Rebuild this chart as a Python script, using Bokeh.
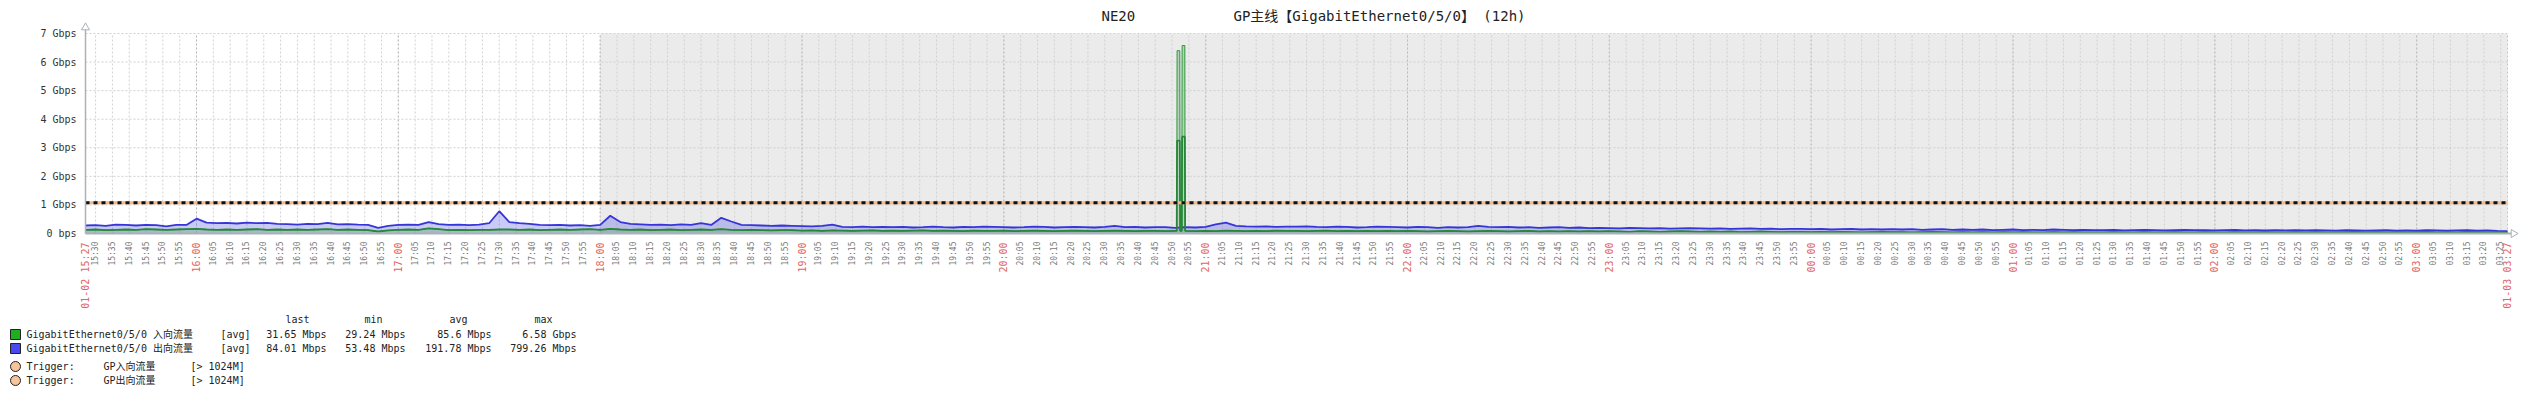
import numpy as np
from bokeh.plotting import figure
from bokeh.models import Range1d
from bokeh.core.properties import value
from bokeh.embed import file_html
from bokeh.resources import INLINE

# ---------------- data ----------------
START_CLOCK = "15:27"          # first sample (01-02)
STEP_MIN = 3                   # sampling step of the arrays below (minutes)
SPAN_MIN = 720                 # 12h
WORK_END = "18:00"             # shaded (non-working) period starts here
Y_MAX = 7                      # Gbps

# outbound (出向流量), Gbps, one value every 3 minutes from 15:27
outbound = [
    0.28, 0.29, 0.27, 0.31, 0.30, 0.28, 0.30, 0.29, 0.25, 0.30,
    0.30, 0.52, 0.38, 0.36, 0.37, 0.35, 0.38, 0.36, 0.37, 0.34,
    0.33, 0.31, 0.34, 0.33, 0.37, 0.32, 0.33, 0.31, 0.30, 0.20,
    0.27, 0.30, 0.31, 0.30, 0.40, 0.33, 0.30, 0.31, 0.29, 0.31,
    0.36, 0.78, 0.40, 0.36, 0.34, 0.30, 0.29, 0.30, 0.28, 0.29,
    0.27, 0.30, 0.62, 0.40, 0.34, 0.32, 0.30, 0.31, 0.29, 0.32,
    0.30, 0.36, 0.30, 0.55, 0.42, 0.30, 0.29, 0.28, 0.27, 0.28,
    0.27, 0.26, 0.25, 0.27, 0.31, 0.23, 0.22, 0.24, 0.22, 0.23,
    0.22, 0.23, 0.21, 0.22, 0.24, 0.22, 0.21, 0.23, 0.22, 0.24,
    0.23, 0.22, 0.21, 0.22, 0.24, 0.23, 0.21, 0.22, 0.23, 0.22,
    0.21, 0.23, 0.27, 0.22, 0.23, 0.21, 0.22, 0.22, 0.20, 0.22,
    0.21, 0.23, 0.32, 0.38, 0.27, 0.25, 0.24, 0.25, 0.23, 0.24,
    0.24, 0.25, 0.23, 0.22, 0.24, 0.23, 0.21, 0.22, 0.24, 0.23,
    0.22, 0.21, 0.23, 0.22, 0.20, 0.22, 0.21, 0.22, 0.27, 0.23,
    0.22, 0.23, 0.21, 0.22, 0.20, 0.21, 0.22, 0.20, 0.21, 0.19,
    0.20, 0.19, 0.18, 0.20, 0.19, 0.18, 0.19, 0.17, 0.18, 0.19,
    0.18, 0.17, 0.18, 0.16, 0.17, 0.18, 0.16, 0.17, 0.15, 0.16,
    0.16, 0.15, 0.16, 0.14, 0.15, 0.16, 0.14, 0.15, 0.14, 0.15,
    0.14, 0.15, 0.13, 0.14, 0.15, 0.13, 0.14, 0.13, 0.14, 0.12,
    0.13, 0.14, 0.12, 0.13, 0.12, 0.14, 0.13, 0.12, 0.13, 0.12,
    0.12, 0.13, 0.11, 0.12, 0.13, 0.12, 0.11, 0.12, 0.13, 0.12,
    0.12, 0.11, 0.12, 0.13, 0.11, 0.12, 0.11, 0.12, 0.11, 0.12,
    0.11, 0.12, 0.11, 0.10, 0.12, 0.11, 0.10, 0.11, 0.12, 0.10,
    0.11, 0.10, 0.12, 0.11, 0.10, 0.11, 0.12, 0.10, 0.11, 0.09,
    0.084,
]

# inbound (入向流量), Gbps, one value every 3 minutes from 15:27
inbound = [
    0.13, 0.14, 0.12, 0.13, 0.14, 0.13, 0.15, 0.14, 0.13, 0.14,
    0.15, 0.16, 0.14, 0.13, 0.14, 0.13, 0.14, 0.15, 0.13, 0.14,
    0.13, 0.14, 0.13, 0.14, 0.15, 0.13, 0.14, 0.13, 0.12, 0.07,
    0.11, 0.13, 0.14, 0.13, 0.18, 0.15, 0.12, 0.13, 0.12, 0.13,
    0.13, 0.14, 0.14, 0.13, 0.14, 0.12, 0.13, 0.14, 0.13, 0.14,
    0.15, 0.13, 0.16, 0.14, 0.13, 0.14, 0.12, 0.13, 0.14, 0.12,
    0.13, 0.14, 0.13, 0.15, 0.13, 0.12, 0.13, 0.12, 0.11, 0.12,
    0.12, 0.10, 0.11, 0.09, 0.11, 0.10, 0.09, 0.10, 0.11, 0.09,
    0.10, 0.09, 0.10, 0.11, 0.09, 0.10, 0.09, 0.08, 0.10, 0.09,
    0.09, 0.10, 0.08, 0.09, 0.10, 0.09, 0.08, 0.09, 0.10, 0.09,
    0.08, 0.09, 0.10, 0.09, 0.08, 0.09, 0.09, 0.08, 0.09, 0.09,
    0.08, 0.09, 0.08, 0.10, 0.09, 0.08, 0.09, 0.08, 0.10, 0.09,
    0.09, 0.08, 0.09, 0.10, 0.08, 0.09, 0.08, 0.09, 0.08, 0.09,
    0.08, 0.09, 0.08, 0.07, 0.08, 0.09, 0.08, 0.07, 0.08, 0.09,
    0.08, 0.07, 0.08, 0.09, 0.07, 0.08, 0.07, 0.08, 0.07, 0.08,
    0.07, 0.08, 0.07, 0.06, 0.08, 0.07, 0.06, 0.07, 0.08, 0.07,
    0.06, 0.07, 0.06, 0.07, 0.05, 0.06, 0.07, 0.06, 0.05, 0.06,
    0.06, 0.05, 0.06, 0.05, 0.06, 0.05, 0.04, 0.05, 0.06, 0.05,
    0.05, 0.04, 0.05, 0.06, 0.05, 0.04, 0.05, 0.04, 0.05, 0.04,
    0.05, 0.04, 0.05, 0.04, 0.04, 0.05, 0.04, 0.05, 0.04, 0.04,
    0.04, 0.05, 0.04, 0.04, 0.05, 0.04, 0.04, 0.05, 0.04, 0.04,
    0.05, 0.04, 0.04, 0.05, 0.04, 0.04, 0.05, 0.04, 0.04, 0.05,
    0.04, 0.05, 0.04, 0.04, 0.05, 0.06, 0.04, 0.05, 0.04, 0.05,
    0.04, 0.05, 0.06, 0.04, 0.05, 0.04, 0.06, 0.05, 0.04, 0.05,
    0.032,
]

# inbound burst around 20:52-20:54 (minutes after 15:27), avg and max per sample
spike_t = [324.4, 324.5, 325.3, 325.4, 325.9, 326.0, 326.8, 326.9]
spike_avg = [0.09, 3.25, 3.25, 0.09, 0.09, 3.39, 3.39, 0.09]
spike_max = [0.09, 6.40, 6.40, 0.09, 0.09, 6.58, 6.58, 0.09]

threshold = 1.0737             # 1024M trigger level, Gbps

y_tick_values = [0, 1, 2, 3, 4, 5, 6, 7]
y_tick_labels = ["0 bps", "1 Gbps", "2 Gbps", "3 Gbps", "4 Gbps", "5 Gbps", "6 Gbps", "7 Gbps"]
hour_labels = ["16:00", "17:00", "18:00", "19:00", "20:00", "21:00", "22:00",
               "23:00", "00:00", "01:00", "02:00", "03:00"]
edge_labels = ["01-02 15:27", "01-03 03:27"]

series_names = ["GigabitEthernet0/5/0 入向流量", "GigabitEthernet0/5/0 出向流量"]
stat_headers = ["last", "min", "avg", "max"]
stats_in = ["31.65 Mbps", "29.24 Mbps", "85.6 Mbps", "6.58 Gbps"]
stats_out = ["84.01 Mbps", "53.48 Mbps", "191.78 Mbps", "799.26 Mbps"]
trigger_names = ["GP入向流量", "GP出向流量"]
trigger_cond = "[> 1024M]"
title_parts = ["NE20", "GP主线【GigabitEthernet0/5/0】 (12h)"]

# ---------------- layout (page pixels) ----------------
W, H = 2528, 402
PL, PR, PT, PB = 85, 2507, 33, 233          # plot area edges
KX = (PR - PL) / SPAN_MIN                   # px per minute
KY = (PB - PT) / Y_MAX                      # px per Gbps


def X(px):   # page pixel -> minutes
    return (px - PL) / KX


def Y(py):   # page pixel -> Gbps
    return (PB - py) / KY


start_abs = int(START_CLOCK[:2]) * 60 + int(START_CLOCK[3:])


def clock_to_min(hhmm):
    h, m = map(int, hhmm.split(":"))
    return ((h * 60 + m) - start_abs) % 1440


five_ticks, five_labels, all_five = [], [], []
c = start_abs + (5 - start_abs % 5) % 5
while c - start_abs <= SPAN_MIN:
    t = c - start_abs
    all_five.append(t)
    if c % 60 != 0:
        five_ticks.append(t)
        five_labels.append(f"{(c // 60) % 24:02d}:{c % 60:02d}")
    c += 5
hour_t = [clock_to_min(h) for h in hour_labels]

t_out = np.arange(len(outbound)) * STEP_MIN
t_base = np.arange(len(inbound)) * STEP_MIN
inb = np.array(inbound)
keep = (t_base < min(spike_t)) | (t_base > max(spike_t))
t_in = np.concatenate([t_base[keep], spike_t])
order = np.argsort(t_in, kind="stable")
t_in = t_in[order]
in_avg = np.concatenate([inb[keep], spike_avg])[order]
in_max = np.concatenate([inb[keep], spike_max])[order]

MONO = "DejaVu Sans Mono, Noto Sans CJK SC"
GRAY_AX = "#a9b1b9"
RED = "#e26464"
TXT = "#222222"

p = figure(width=W, height=H, output_backend="svg", toolbar_location=None,
           x_range=Range1d(X(0), X(W)), y_range=Range1d(Y(H), Y(0)),
           x_axis_type=None, y_axis_type=None, min_border=0)
p.outline_line_color = None
p.background_fill_color = "white"
p.border_fill_color = "white"
p.xgrid.visible = False
p.ygrid.visible = False

# plot area background: working time white, rest shaded
work_end = clock_to_min(WORK_END)
p.quad(left=[work_end], right=[SPAN_MIN], bottom=[0], top=[Y_MAX],
       fill_color="#ebebeb", line_color=None)

# grid lines
p.segment(x0=all_five, x1=all_five, y0=0, y1=Y_MAX, line_color="#d0d0d0",
          line_width=1, line_dash="2 2")
p.segment(x0=hour_t, x1=hour_t, y0=0, y1=Y_MAX, line_color="#bdbdbd",
          line_width=1, line_dash="2 2")
p.segment(x0=[SPAN_MIN], x1=[SPAN_MIN], y0=0, y1=Y_MAX, line_color="#c4c4c4",
          line_width=1, line_dash="2 2")
p.segment(x0=0, x1=SPAN_MIN, y0=y_tick_values[1:], y1=y_tick_values[1:],
          line_color="#d0d0d0", line_width=1, line_dash="2 2")

# series
p.varea(x=t_out, y1=0, y2=outbound, fill_color="#3c3cdc", fill_alpha=0.27)
p.varea(x=t_in, y1=0, y2=in_max, fill_color="#589b5d", fill_alpha=0.32)
p.line(x=t_in, y=in_max, line_color="#2a9a3a", line_width=1)
p.line(x=t_out, y=outbound, line_color="#3535d8", line_width=1.8)
p.line(x=t_in, y=in_avg, line_color="#26873a", line_width=1.8)

# trigger lines (1024M)
p.segment(x0=0, x1=SPAN_MIN, y0=[threshold], y1=[threshold], line_color="#f3b98a", line_width=3)
p.segment(x0=0, x1=SPAN_MIN, y0=[threshold], y1=[threshold], line_color="#111111",
          line_width=3, line_dash="4 4")

# axes lines with open arrow heads
p.segment(x0=[0], x1=[0], y0=[0], y1=[Y(PT - 9)], line_color=GRAY_AX, line_width=1.5)
p.segment(x0=[0], x1=[X(PR + 9)], y0=[0], y1=[0], line_color=GRAY_AX, line_width=2)
p.triangle(x=[0], y=[Y(PT - 6)], size=8, fill_color="white", line_color=GRAY_AX, line_width=1)
p.triangle(x=[X(PR + 6)], y=[0], size=8, angle=-np.pi / 2, fill_color="white",
           line_color=GRAY_AX, line_width=1)

# y tick labels
p.text(x=X(PL - 9), y=y_tick_values, text=y_tick_labels, text_align="right",
       text_baseline="middle", text_font=value(MONO), text_font_size="10px",
       text_color="#333333")

# x tick labels: 5-minute (gray), hours and edges (red)
p.text(x=five_ticks, y=Y(PB + 8), text=five_labels, angle=np.pi / 2, text_align="right",
       text_baseline="middle", text_font=value(MONO), text_font_size="8px",
       text_color="#7a7a7a")
p.text(x=hour_t + [0, SPAN_MIN], y=Y(PB + 9), text=hour_labels + edge_labels,
       angle=np.pi / 2, text_align="right", text_baseline="middle",
       text_font=value(MONO), text_font_size="10px", text_color=RED)

# title
p.text(x=[X(1101), X(1233)], y=Y(15), text=title_parts, text_align="left",
       text_baseline="middle", text_font=value(MONO), text_font_size="14px", text_color=TXT)


def lab(texts, xs, ys, align="left", size="10px", color=TXT, font=MONO):
    p.text(x=[X(v) for v in xs], y=[Y(v) for v in ys], text=texts, text_align=align,
           text_baseline="middle", text_font=value(font), text_font_size=size,
           text_color=color)


# legend
lab(stat_headers, [297, 373, 458, 543], [319] * 4, align="center")
for (name, stats, fill, yi) in [(series_names[0], stats_in, "#1fae1f", 334),
                                (series_names[1], stats_out, "#4848f0", 348)]:
    p.rect(x=[X(15)], y=[Y(yi)], width=10, height=10, width_units="screen",
           height_units="screen", fill_color=fill, line_color="#222222", line_width=1)
    lab([name, "[avg]"], [26, 220], [yi, yi])
    lab(stats, [326, 405, 491, 576], [yi] * 4, align="right")

for tname, yi in zip(trigger_names, [366, 380]):
    p.scatter(x=[X(15)], y=[Y(yi)], size=10, marker="circle", fill_color="#f6c49a",
              line_color="#222222", line_width=1)
    lab(["Trigger:", tname, trigger_cond], [26, 103, 190], [yi] * 3)

open("out.html", "w").write(file_html(p, INLINE))
